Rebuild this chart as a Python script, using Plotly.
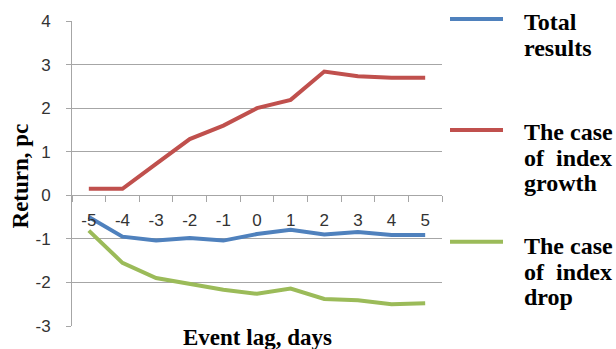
import plotly.graph_objects as go

# Event lags (days) and average returns (pc) for each group of events
lags = ["-5", "-4", "-3", "-2", "-1", "0", "1", "2", "3", "4", "5"]
total_results = [-0.50, -0.95, -1.04, -0.98, -1.04, -0.89, -0.79, -0.90, -0.84, -0.91, -0.91]
index_growth = [0.15, 0.15, 0.72, 1.29, 1.60, 2.00, 2.19, 2.84, 2.73, 2.70, 2.70]
index_drop = [-0.81, -1.55, -1.90, -2.03, -2.17, -2.26, -2.14, -2.38, -2.41, -2.50, -2.48]

series_names = ["Total\nresults", "The case\nof\u00a0 index\ngrowth", "The case\nof\u00a0 index\ndrop"]
series_values = [total_results, index_growth, index_drop]
series_colors = ["#4F81BD", "#C0504D", "#9BBB59"]

y_ticks = [-3, -2, -1, 0, 1, 2, 3, 4]
y_tick_labels = ["-3", "-2", "-1", "0", "1", "2", "3", "4"]

# page geometry (pixels)
W, H = 616, 349
L, R, T, B = 72, 174, 18, 23
PW, PH = W - L - R, H - T - B


def px(x):
    return (x - L) / PW


def py(y):
    return (H - B - y) / PH


fig = go.Figure()
for name, vals, col in zip(series_names, series_values, series_colors):
    fig.add_trace(go.Scatter(
        x=lags, y=vals, mode="lines", name=name.replace("\n", " "),
        line=dict(color=col, width=4), showlegend=False,
    ))

grid = "#A6A6A6"
tick_font = dict(family="Liberation Sans", size=17, color="#333333")
title_font = dict(family="Liberation Serif", size=23, color="#000000")
legend_font = dict(family="Liberation Serif", size=24, color="#000000")

fig.update_layout(
    width=W, height=H,
    margin=dict(l=L, r=R, t=T, b=B, pad=0),
    paper_bgcolor="white", plot_bgcolor="white",
    xaxis=dict(
        type="category", range=[-0.5, len(lags) - 0.5],
        anchor="free", position=(0 - y_ticks[0]) / (y_ticks[-1] - y_ticks[0]),
        showline=True, linecolor=grid, linewidth=1,
        ticks="outside", tickson="boundaries", ticklen=6, tickcolor=grid,
        showgrid=False, tickfont=tick_font, ticklabelstandoff=9,
    ),
    yaxis=dict(
        range=[y_ticks[0], y_ticks[-1]], tickvals=y_ticks, ticktext=y_tick_labels,
        showline=True, linecolor=grid, linewidth=1,
        showgrid=True, gridcolor=grid, gridwidth=1, zeroline=False,
        ticks="outside", ticklen=5, tickcolor=grid,
        tickfont=tick_font, ticklabelstandoff=12,
    ),
)

annotations = [
    dict(text="<b>Return, pc</b>", x=px(20), y=py(175), xref="paper", yref="paper",
         textangle=-90, showarrow=False, font=title_font, xanchor="center", yanchor="middle"),
    dict(text="<b>Event lag, days</b>", x=px(257), y=py(338), xref="paper", yref="paper",
         showarrow=False, font=title_font, xanchor="center", yanchor="middle"),
]

# legend: sample line plus text lines, one block per series
legend_lines_y = [16, 128, 241]
legend_text_y = [19, 130, 245]
line_gap = 26
shapes = []
for name, col, ly, ty in zip(series_names, series_colors, legend_lines_y, legend_text_y):
    shapes.append(dict(type="line", xref="paper", yref="paper",
                       x0=px(450), x1=px(503), y0=py(ly), y1=py(ly),
                       line=dict(color=col, width=4)))
    for k, part in enumerate(name.split("\n")):
        annotations.append(dict(
            text="<b>" + part + "</b>", x=px(522), y=py(ty + line_gap * k),
            xref="paper", yref="paper", showarrow=False, font=legend_font,
            xanchor="left", yanchor="middle"))

fig.update_layout(annotations=annotations, shapes=shapes)
fig.write_html("out.html")
